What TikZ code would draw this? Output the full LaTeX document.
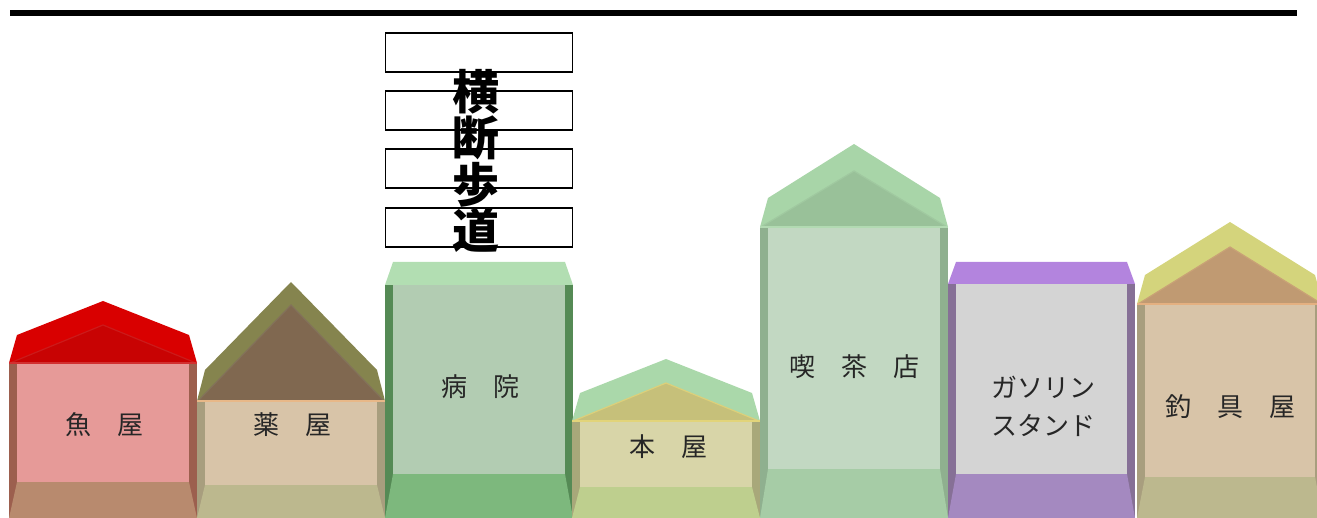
\documentclass[tikz,border=0pt]{standalone}
\usepackage{fontspec}
\newfontfamily\cjk{Noto Sans CJK JP}
\begin{document}
\begin{tikzpicture}[x=1pt,y=-1pt,
  label/.style={font=\cjk\fontsize{26}{38}\selectfont, text=black!85, inner sep=0pt, align=center},
  walk/.style={draw=black, line width=1.6pt, fill=white, minimum width=187pt, minimum height=39pt, inner sep=0pt},
  walktext/.style={font=\cjk\bfseries\fontsize{47}{46.5}\selectfont, inner sep=0pt, align=center}]
\useasboundingbox (0,0) rectangle (1317,518);
\clip (0,0) rectangle (1317,518);

% body of a building: #1 left, #2 right, #3 face top, #4 face bottom
\newcommand\bldbody[4]{%
  \fill[sidec] (#1,#3) rectangle (#2,518);
  \fill[botc] (#1+8,#4) -- (#2-8,#4) -- (#2,518) -- (#1,518) -- cycle;
  \fill[frontc] (#1+8,#3) rectangle (#2-8,#4);
}
% flat top of a building: #1 left, #2 right, #3 top edge, #4 face top
\newcommand\bldtop[4]{%
  \fill[sidec] (#1,#4) rectangle (#2,518);
  \fill[topc] (#1+8,#3) -- (#2-8,#3) -- (#2,#4) -- (#1,#4) -- cycle;
}
% gabled roof: #1 left, #2 right, #3 base, #4 shoulder, #5 peak, #6 inner peak
\newcommand\bldroof[6]{%
  \fill[roofout] (#1,#3) -- (#1+8,#4) -- ({(#1+#2)/2},#5) -- (#2-8,#4) -- (#2,#3) -- cycle;
  \fill[roofin] (#1+1,#3) -- ({(#1+#2)/2},#6) -- (#2-1,#3) -- cycle;
  \draw[slopeline, line width=1.2pt] (#1+1,#3) -- ({(#1+#2)/2},#6) -- (#2-1,#3);
  \draw[roofline, line width=1.5pt] (#1,#3) -- (#2,#3);
}

% heading rule
\draw[line width=6pt] (10,13.5) -- (1297,13.5);

% fish shop
\definecolor{sidec}{HTML}{9C5F4E}\definecolor{botc}{HTML}{B88A6E}\definecolor{frontc}{HTML}{E69A98}
\definecolor{roofout}{HTML}{D90000}\definecolor{roofin}{HTML}{C80303}
\definecolor{roofline}{HTML}{D23030}\definecolor{slopeline}{HTML}{CC1A1A}
\bldbody{9}{197}{363}{482}
\bldroof{9}{197}{363}{335}{301}{325}
\node[label] (fish) at (104,425) {魚　屋};

% pharmacy
\definecolor{sidec}{HTML}{A89E7E}\definecolor{botc}{HTML}{BCB88E}\definecolor{frontc}{HTML}{D8C4A8}
\definecolor{roofout}{HTML}{85844E}\definecolor{roofin}{HTML}{806850}
\definecolor{roofline}{HTML}{E8B888}\definecolor{slopeline}{HTML}{83725A}
\bldbody{197}{385}{401}{485}
\bldroof{197}{385}{401}{370}{282}{305}
\node[label] (drug) at (292,425) {薬　屋};

% hospital
\definecolor{sidec}{HTML}{558A55}\definecolor{botc}{HTML}{7DB87D}\definecolor{frontc}{HTML}{B2CCB2}
\definecolor{topc}{HTML}{B2DEB2}
\bldtop{385}{573}{262}{285}
\bldbody{385}{573}{285}{474}
\node[label] (hosp) at (480,387) {病　院};

% book shop
\definecolor{sidec}{HTML}{A8A87A}\definecolor{botc}{HTML}{BECF8E}\definecolor{frontc}{HTML}{D8D5A8}
\definecolor{roofout}{HTML}{AAD8AA}\definecolor{roofin}{HTML}{C6C07A}
\definecolor{roofline}{HTML}{E2D47A}\definecolor{slopeline}{HTML}{DCD07A}
\bldbody{572}{760}{421}{487}
\bldroof{572}{760}{421}{393}{359}{383}
\node[label] (book) at (668,447) {本　屋};

% coffee shop
\definecolor{sidec}{HTML}{8FB08F}\definecolor{botc}{HTML}{A6CCA6}\definecolor{frontc}{HTML}{C2D8C2}
\definecolor{roofout}{HTML}{A8D5A8}\definecolor{roofin}{HTML}{99C199}
\definecolor{roofline}{HTML}{B2DAB2}\definecolor{slopeline}{HTML}{A0C9A0}
\bldbody{760}{948}{227}{469}
\bldroof{760}{948}{227}{198}{144}{171}
\node[label] (cafe) at (854,367) {喫　茶　店};

% gas station
\definecolor{sidec}{HTML}{867096}\definecolor{botc}{HTML}{A489C0}\definecolor{frontc}{HTML}{D4D4D4}
\definecolor{topc}{HTML}{B384DE}
\bldtop{948}{1135}{262}{284}
\bldbody{948}{1135}{284}{474}
\node[label] (gas) at (1043,406) {ガソリン\\スタンド};

% fishing tackle shop
\definecolor{sidec}{HTML}{A89E7E}\definecolor{botc}{HTML}{BCB88E}\definecolor{frontc}{HTML}{D8C4A8}
\definecolor{roofout}{HTML}{D4D47C}\definecolor{roofin}{HTML}{C09A72}
\definecolor{roofline}{HTML}{E4B080}\definecolor{slopeline}{HTML}{C9A276}
\bldbody{1137}{1323}{304}{477}
\bldroof{1137}{1323}{304}{275}{222}{247}
\node[label] (tackle) at (1230,407) {釣　具　屋};

% crosswalk
\node[walk] (s1) at (479,52.5) {};
\node[walk] (s2) at (479,110.5) {};
\node[walk] (s3) at (479,168.5) {};
\node[walk] (s4) at (479,227.5) {};
\node[walktext] (cross) at (476,161) {横\\断\\歩\\道};
\end{tikzpicture}
\end{document}
